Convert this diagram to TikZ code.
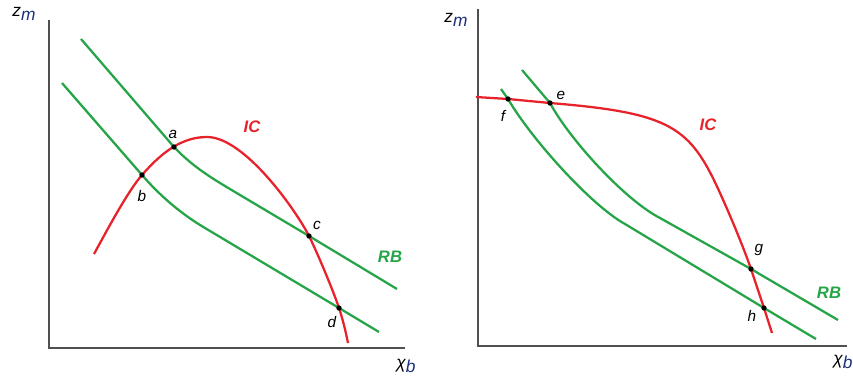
\documentclass[tikz,border=0pt]{standalone}
\usepackage{fontspec}
\setmainfont{Liberation Sans}
\definecolor{icred}{HTML}{E8222B}
\definecolor{rbgreen}{HTML}{25A548}
\definecolor{axgray}{HTML}{505050}
\definecolor{subblue}{HTML}{1A2F7A}
\tikzset{
  axis/.style={draw=axgray, line width=0.8pt},
  iccurve/.style={draw=icred, line width=1.7pt, line join=round},
  rbcurve/.style={draw=rbgreen, line width=1.7pt, line join=round},
  dotpt/.style={circle, fill=black, inner sep=0pt, minimum size=4pt},
  ptlabel/.style={font=\fontsize{11.5}{13}\selectfont\itshape},
  curvelabel/.style={font=\fontsize{12.5}{14}\selectfont\bfseries\itshape},
  axlabel/.style={font=\fontsize{13}{15}\selectfont\itshape, inner sep=0pt}
}
\begin{document}
\begin{tikzpicture}[x=0.75pt,y=-0.75pt]
\useasboundingbox (0,0) rectangle (853,375);
% ---------- Left panel ----------
\coordinate (LO) at (49,348);
\coordinate (LY) at (49,20);
\coordinate (LX) at (405,348);
\draw[axis] (LY) -- (LO) -- (LX);
\node[axlabel] (lzm) at (24,14) {z\raisebox{-3pt}{\textcolor{subblue}{m}}};
\node[axlabel] (lxb) at (406,366) {χ\raisebox{-3pt}{\textcolor{subblue}{b}}};

\coordinate (a) at (174,147);
\coordinate (b) at (142,175);
\coordinate (c) at (309,236);
\coordinate (d) at (339,308);

% upper RB
\draw[rbcurve] (81,39) -- (a) .. controls (195,169) and (215,180) .. (240,195) -- (c) -- (397,289);
% lower RB
\draw[rbcurve] (62,83) -- (b) .. controls (162,198) and (183,215) .. (205,228) -- (d) -- (379,332);
% IC
\draw[iccurve] (94,254) .. controls (104,236) and (127,192) .. (b)
  .. controls (162,152) and (182,137) .. (207,137)
  .. controls (245,137) and (297,212) .. (c)
  .. controls (317,252) and (333,290) .. (d)
  .. controls (343,320) and (346,333) .. (348,343);

\foreach \p in {a,b,c,d} \node[dotpt] (dot\p) at (\p) {};
\node[ptlabel] (la) at (173,134) {a};
\node[ptlabel] (lb) at (142,196) {b};
\node[ptlabel] (lc) at (317,225) {c};
\node[ptlabel] (ld) at (332,322) {d};
\node[curvelabel, text=icred] (lic) at (252,127) {IC};
\node[curvelabel, text=rbgreen] (lrb) at (390,257) {RB};

% ---------- Right panel ----------
\coordinate (RO) at (478,346);
\coordinate (RY) at (478,9);
\coordinate (RX) at (847,346);
\draw[axis] (RY) -- (RO) -- (RX);
\node[axlabel] (rzm) at (456,20) {z\raisebox{-3pt}{\textcolor{subblue}{m}}};
\node[axlabel] (rxb) at (843,362) {χ\raisebox{-3pt}{\textcolor{subblue}{b}}};

\coordinate (e) at (550,103);
\coordinate (f) at (508,99);
\coordinate (g) at (751,269);
\coordinate (h) at (764,308);

% upper RB
\draw[rbcurve] (522,70) -- (e) .. controls (570,140) and (625,200) .. (660,218) -- (g) -- (838,320);
% lower RB
\draw[rbcurve] (501,89) -- (f) .. controls (532,140) and (592,206) .. (625,224) -- (h) -- (816,339);
% IC
\draw[iccurve] (476,97) -- (f) -- (e)
  .. controls (672,113) and (690,127) .. (720,193)
  .. controls (730,215) and (743,246) .. (g) -- (h) -- (772,333);

\foreach \p in {e,f,g,h} \node[dotpt] (dot\p) at (\p) {};
\node[ptlabel] (le) at (561,95) {e};
\node[ptlabel] (lf) at (503,116) {f};
\node[ptlabel] (lg) at (759,250) {g};
\node[ptlabel] (lh) at (752,316) {h};
\node[curvelabel, text=icred] (ric) at (708,125) {IC};
\node[curvelabel, text=rbgreen] (rrb) at (829,293) {RB};
\end{tikzpicture}
\end{document}
